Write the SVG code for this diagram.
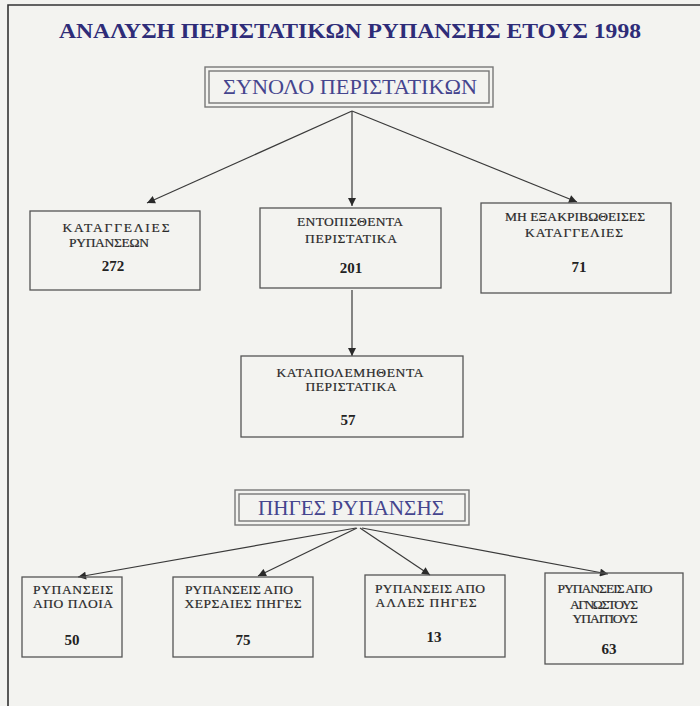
<svg xmlns="http://www.w3.org/2000/svg" width="700" height="706" viewBox="0 0 700 706">
<defs>
<marker id="ah" viewBox="0 0 10 10" refX="10" refY="5" markerWidth="9" markerHeight="8" markerUnits="userSpaceOnUse" orient="auto">
<path d="M0,0 L10,5 L0,10 z" fill="#2a2a2a"/>
</marker>
<style>
.bg{fill:#f3f3f0}
.frame{fill:none;stroke:#333;stroke-width:1.6}
.box{fill:none;stroke:#555;stroke-width:1.3}
.dbl{fill:none;stroke:#777;stroke-width:1.4}
.lbl{font-family:"Liberation Serif","Times New Roman",serif;font-size:13.5px;fill:#2a2a2a;stroke:#2a2a2a;stroke-width:0.2;text-anchor:middle}
.num{font-family:"Liberation Serif","Times New Roman",serif;font-size:15px;font-weight:bold;fill:#222;text-anchor:middle}
.hdr{font-family:"Liberation Serif","Times New Roman",serif;font-size:20px;fill:#45458e;text-anchor:middle}
.title{font-family:"Liberation Serif","Times New Roman",serif;font-size:21px;font-weight:bold;fill:#2e2c78;text-anchor:middle}
.con{stroke:#3a3a3a;stroke-width:1.2;fill:none;marker-end:url(#ah)}
</style>
</defs>
<rect class="bg" x="0" y="0" width="700" height="706"/>
<path class="frame" d="M8,706 V5 H700"/>
<text id="title" class="title" x="350" y="38" textLength="582" lengthAdjust="spacingAndGlyphs">ΑΝΑΛΥΣΗ ΠΕΡΙΣΤΑΤΙΚΩΝ ΡΥΠΑΝΣΗΣ ΕΤΟΥΣ 1998</text>

<g id="connectors">
<line class="con" x1="352" y1="111" x2="147" y2="203"/>
<line class="con" x1="352" y1="111" x2="352" y2="206"/>
<line class="con" x1="352" y1="111" x2="577" y2="202"/>
<line class="con" x1="352" y1="290" x2="352" y2="356"/>
<line class="con" x1="356" y1="528" x2="78" y2="577"/>
<line class="con" x1="357" y1="528" x2="258" y2="576"/>
<line class="con" x1="360" y1="528" x2="430" y2="575"/>
<line class="con" x1="362" y1="528" x2="608" y2="574"/>
</g>

<g id="total">
<rect class="dbl" x="205" y="67" width="288" height="40"/>
<rect class="dbl" x="209" y="71" width="280" height="32"/>
<text class="hdr" x="350" y="94" textLength="254" lengthAdjust="spacingAndGlyphs">ΣΥΝΟΛΟ ΠΕΡΙΣΤΑΤΙΚΩΝ</text>
</g>

<g id="complaints">
<rect class="box" x="30" y="211" width="170" height="79"/>
<text class="lbl" x="116" y="232" textLength="107" lengthAdjust="spacing">ΚΑΤΑΓΓΕΛΙΕΣ</text>
<text class="lbl" x="109" y="247" textLength="80" lengthAdjust="spacing">ΡΥΠΑΝΣΕΩΝ</text>
<text class="num" x="113" y="271">272</text>
</g>

<g id="detected">
<rect class="box" x="260" y="208" width="181" height="80"/>
<text class="lbl" x="350" y="226" textLength="106" lengthAdjust="spacing">ΕΝΤΟΠΙΣΘΕΝΤΑ</text>
<text class="lbl" x="351" y="243" textLength="92" lengthAdjust="spacing">ΠΕΡΙΣΤΑΤΙΚΑ</text>
<text class="num" x="351" y="273">201</text>
</g>

<g id="unverified">
<rect class="box" x="481" y="203" width="190" height="90"/>
<text class="lbl" x="575" y="221" textLength="140" lengthAdjust="spacing">ΜΗ ΕΞΑΚΡΙΒΩΘΕΙΣΕΣ</text>
<text class="lbl" x="574" y="237" textLength="98" lengthAdjust="spacing">ΚΑΤΑΓΓΕΛΙΕΣ</text>
<text class="num" x="579" y="272">71</text>
</g>

<g id="combated">
<rect class="box" x="241" y="356" width="222" height="81"/>
<text class="lbl" x="350" y="377" textLength="147" lengthAdjust="spacing">ΚΑΤΑΠΟΛΕΜΗΘΕΝΤΑ</text>
<text class="lbl" x="351" y="391" textLength="91" lengthAdjust="spacing">ΠΕΡΙΣΤΑΤΙΚΑ</text>
<text class="num" x="348" y="425">57</text>
</g>

<g id="sources">
<rect class="dbl" x="235" y="490" width="234" height="35"/>
<rect class="dbl" x="239" y="494" width="226" height="27"/>
<text class="hdr" x="351" y="515" textLength="186" lengthAdjust="spacingAndGlyphs">ΠΗΓΕΣ ΡΥΠΑΝΣΗΣ</text>
</g>

<g id="ships">
<rect class="box" x="22" y="577" width="100" height="80"/>
<text class="lbl" x="73" y="594" textLength="80" lengthAdjust="spacing">ΡΥΠΑΝΣΕΙΣ</text>
<text class="lbl" x="73" y="608" textLength="80" lengthAdjust="spacing">ΑΠΟ ΠΛΟΙΑ</text>
<text class="num" x="72" y="645">50</text>
</g>

<g id="land">
<rect class="box" x="173" y="577" width="140" height="80"/>
<text class="lbl" x="239" y="594" textLength="108" lengthAdjust="spacing">ΡΥΠΑΝΣΕΙΣ ΑΠΟ</text>
<text class="lbl" x="243" y="608" textLength="117" lengthAdjust="spacing">ΧΕΡΣΑΙΕΣ ΠΗΓΕΣ</text>
<text class="num" x="243" y="645">75</text>
</g>

<g id="other">
<rect class="box" x="365" y="575" width="140" height="82"/>
<text class="lbl" x="430" y="593" textLength="110" lengthAdjust="spacing">ΡΥΠΑΝΣΕΙΣ ΑΠΟ</text>
<text class="lbl" x="426" y="607" textLength="101" lengthAdjust="spacing">ΑΛΛΕΣ ΠΗΓΕΣ</text>
<text class="num" x="434" y="642">13</text>
</g>

<g id="unknown">
<rect class="box" x="545" y="573" width="138" height="91"/>
<text class="lbl" x="605" y="593" textLength="95" lengthAdjust="spacing">ΡΥΠΑΝΣΕΙΣ ΑΠΟ</text>
<text class="lbl" x="604" y="609" textLength="68" lengthAdjust="spacing">ΑΓΝΩΣΤΟΥΣ</text>
<text class="lbl" x="605" y="623" textLength="65" lengthAdjust="spacing">ΥΠΑΙΤΙΟΥΣ</text>
<text class="num" x="609" y="654">63</text>
</g>
</svg>
